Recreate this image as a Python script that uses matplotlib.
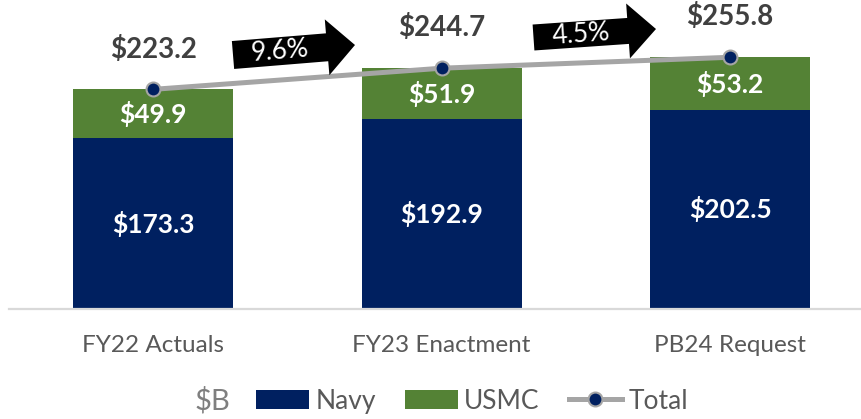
import numpy as np
import matplotlib
matplotlib.use("Agg")
import matplotlib.pyplot as plt
from matplotlib.patches import Polygon, Patch
from matplotlib.lines import Line2D

plt.rcParams['font.family'] = ['Lato', 'DejaVu Sans']

categories = ["FY22 Actuals", "FY23 Enactment", "PB24 Request"]
navy = [173.3, 192.9, 202.5]
usmc = [49.9, 51.9, 53.2]
total = [223.2, 244.7, 255.8]
growth = ["9.6%", "4.5%"]

NAVY_C = "#002060"
USMC_C = "#548235"
LINE_C = "#A5A5A5"

W, H = 862, 419
fig = plt.figure(figsize=(W / 100, H / 100), dpi=100)
ax = fig.add_axes([9 / W, 1 - 309 / H, (861 - 9) / W, 309 / H])

x = np.arange(len(categories))
bw = 0.555
ax.bar(x, navy, bw, color=NAVY_C, zorder=2)
ax.bar(x, usmc, bw, bottom=navy, color=USMC_C, zorder=2)
ax.plot(x, total, color=LINE_C, lw=3.6, marker='o', ms=10, mfc=NAVY_C,
        mec=LINE_C, mew=1.5, zorder=4, solid_capstyle='butt')

for i in range(len(x)):
    ax.text(x[i], navy[i] / 2, f"${navy[i]:.1f}", ha='center', va='center',
            color='white', fontsize=19, fontweight='bold', zorder=5)
    ax.text(x[i], navy[i] + usmc[i] / 2, f"${usmc[i]:.1f}", ha='center', va='center',
            color='white', fontsize=19, fontweight='bold', zorder=5)
    ax.annotate(f"${total[i]:.1f}", (x[i], total[i]), xytext=(0, 29),
                textcoords='offset points', ha='center', va='center',
                color='#404040', fontsize=20, fontweight='bold', zorder=5)

ax.set_xlim(-0.5, 2.454)
ax.set_ylim(0, 314)
ax.set_yticks([])
ax.set_xticks(x)
ax.set_xticklabels(categories, fontsize=17.5, color='#595959')
ax.tick_params(axis='x', length=0, pad=19)
for s in ['top', 'right', 'left']:
    ax.spines[s].set_visible(False)
ax.spines['bottom'].set_color('#D9D9D9')
ax.spines['bottom'].set_linewidth(1.6)


def block_arrow(tail, tip, body_w, head_w, head_len, label):
    tail = np.array(tail, float)
    tip = np.array(tip, float)
    d = tip - tail
    L = np.hypot(*d)
    u = d / L
    n = np.array([-u[1], u[0]])
    base = tip - u * head_len
    pts = [tail + n * body_w / 2, base + n * body_w / 2, base + n * head_w / 2,
           tip, base - n * head_w / 2, base - n * body_w / 2, tail - n * body_w / 2]
    pts = np.array([[p[0] / W, 1 - p[1] / H] for p in pts])
    fig.patches.append(Polygon(pts, closed=True, facecolor='black',
                               edgecolor='none', transform=fig.transFigure, zorder=6))
    ang = -np.degrees(np.arctan2(d[1], d[0]))
    c = tail + u * (L - head_len) / 2
    fig.text(c[0] / W, 1 - c[1] / H, label, ha='center', va='center',
             rotation=ang, rotation_mode='anchor', color='white', fontsize=19, zorder=7)


block_arrow((233, 55), (355, 45), 28, 56, 28, growth[0])
block_arrow((533.5, 37.5), (656, 29), 26, 55, 28, growth[1])

handles = [Patch(facecolor=NAVY_C), Patch(facecolor=USMC_C),
           Line2D([], [], color=LINE_C, lw=3.6, marker='o', ms=10, mfc=NAVY_C,
                  mec=LINE_C, mew=1.5)]
leg = fig.legend(handles, ["Navy", "USMC", "Total"], ncol=3, loc='center',
                 bbox_to_anchor=(472 / W, 1 - 401 / H), frameon=False, fontsize=19,
                 handlelength=2.0, handleheight=0.7, handletextpad=0.25,
                 columnspacing=1.1, borderaxespad=0)
for t in leg.get_texts():
    t.set_color('#595959')
fig.text(212 / W, 1 - 401 / H, "$B", ha='center', va='center', fontsize=21, color='#7F7F7F')

fig.savefig("out.png", dpi=100)
